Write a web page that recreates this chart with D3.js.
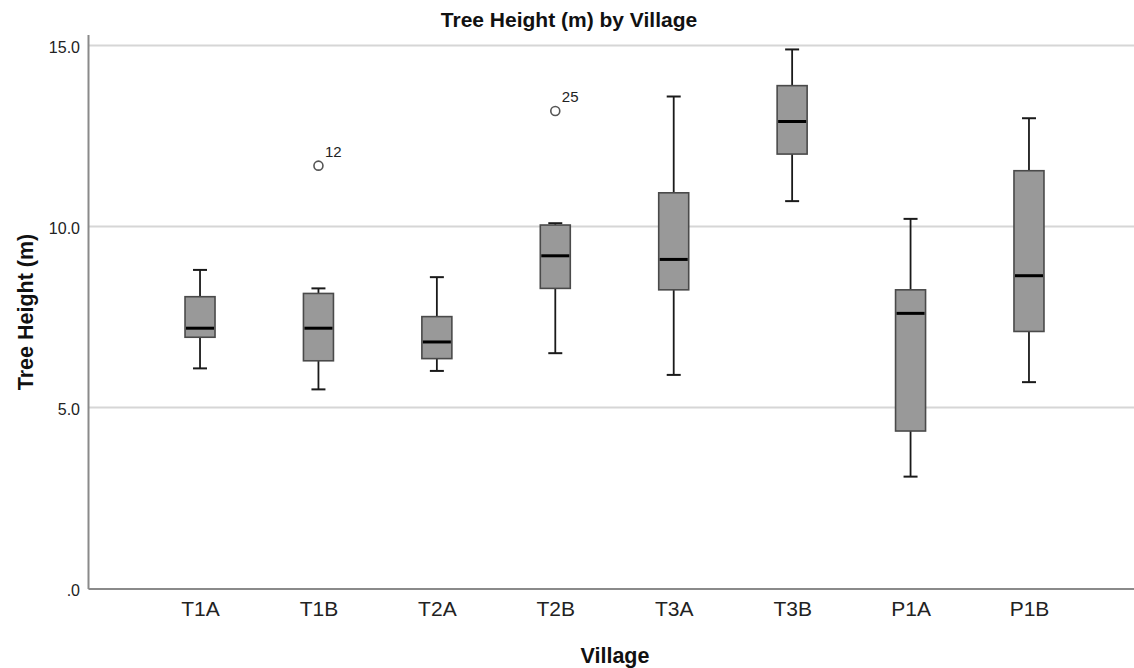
<!DOCTYPE html>
<html>
<head>
<meta charset="utf-8">
<script src="https://cdn.jsdelivr.net/npm/d3@7"></script>
<style>
  body { margin: 0; background: #fff; }
  svg { display: block; font-family: "Liberation Sans", Arial, sans-serif; }
</style>
</head>
<body>
<div id="chart"></div>
<script>
// values
const villages = ["T1A", "T1B", "T2A", "T2B", "T3A", "T3B", "P1A", "P1B"];
const whiskerLow  = [6.08, 5.50, 6.01, 6.50, 5.90, 10.70, 3.09, 5.70];
const q1          = [6.94, 6.29, 6.35, 8.29, 8.25, 12.00, 4.35, 7.10];
const medians     = [7.19, 7.19, 6.81, 9.19, 9.09, 12.90, 7.60, 8.64];
const q3          = [8.06, 8.15, 7.51, 10.04, 10.93, 13.89, 8.25, 11.54];
const whiskerHigh = [8.80, 8.29, 8.60, 10.09, 13.59, 14.89, 10.21, 12.99];
const outlierVillage = ["T1B", "T2B"];
const outlierValue   = [11.68, 13.19];
const outlierLabel   = ["12", "25"];
const yTicks = [0, 5, 10, 15];

const w = 1134, h = 668;

const boxes = villages.map((v, i) => ({
    village: v,
    lo: whiskerLow[i], q1: q1[i], med: medians[i], q3: q3[i], hi: whiskerHigh[i]
}));
const outliers = outlierVillage.map((v, i) => ({village: v, value: outlierValue[i], label: outlierLabel[i]}));

let svg = d3.select("#chart")
    .append("svg")
    .attr("width", w)
    .attr("height", h);

const x = d3.scalePoint()
    .domain(villages)
    .range([88, 1141])
    .padding(0.946);

const y = d3.scaleLinear()
    .domain([0, 15.3])
    .range([588.5, 34.6]);

// gridlines
svg.append("g")
    .selectAll("line")
    .data(yTicks.filter(d => d > 0))
    .join("line")
    .attr("x1", 88)
    .attr("x2", 1141)
    .attr("y1", d => y(d))
    .attr("y2", d => y(d))
    .attr("stroke", "#d6d6d6")
    .attr("stroke-width", 2);

// y axis
const fmt = d => d3.format(".1f")(d).replace(/^0\./, ".");
const yAxis = svg.append("g")
    .attr("transform", "translate(88,0)")
    .call(d3.axisLeft(y).tickValues(yTicks).tickSize(0).tickPadding(8).tickFormat(fmt));
yAxis.select(".domain").attr("stroke", "#8a8a8a").attr("stroke-width", 2);
yAxis.selectAll("text")
    .attr("font-family", "'Liberation Sans', Arial, sans-serif")
    .attr("font-size", 16)
    .attr("fill", "#222")
    .attr("dy", "0.45em");

// x axis
const xAxis = svg.append("g")
    .attr("transform", "translate(0,588.5)")
    .call(d3.axisBottom(x).tickSize(0).tickPadding(13));
xAxis.select(".domain").attr("stroke", "#8a8a8a").attr("stroke-width", 2);
xAxis.selectAll("text")
    .attr("font-family", "'Liberation Sans', Arial, sans-serif")
    .attr("font-size", 21)
    .attr("fill", "#222");

// boxes
const bw = 30, cw = 14;
const box = svg.append("g")
    .selectAll("g")
    .data(boxes)
    .join("g")
    .attr("transform", d => `translate(${x(d.village)},0)`);

// whiskers
box.append("line")
    .attr("y1", d => y(d.q3)).attr("y2", d => y(d.hi))
    .attr("stroke", "#1a1a1a").attr("stroke-width", 1.8);
box.append("line")
    .attr("y1", d => y(d.q1)).attr("y2", d => y(d.lo))
    .attr("stroke", "#1a1a1a").attr("stroke-width", 1.8);
box.append("line")
    .attr("x1", -cw / 2).attr("x2", cw / 2)
    .attr("y1", d => y(d.hi)).attr("y2", d => y(d.hi))
    .attr("stroke", "#1a1a1a").attr("stroke-width", 2);
box.append("line")
    .attr("x1", -cw / 2).attr("x2", cw / 2)
    .attr("y1", d => y(d.lo)).attr("y2", d => y(d.lo))
    .attr("stroke", "#1a1a1a").attr("stroke-width", 2);

box.append("rect")
    .attr("x", -bw / 2)
    .attr("width", bw)
    .attr("y", d => y(d.q3))
    .attr("height", d => y(d.q1) - y(d.q3))
    .attr("fill", "#999999")
    .attr("stroke", "#4a4a4a")
    .attr("stroke-width", 1.6);

box.append("line")
    .attr("x1", -bw / 2 + 1).attr("x2", bw / 2 - 1)
    .attr("y1", d => y(d.med)).attr("y2", d => y(d.med))
    .attr("stroke", "#000")
    .attr("stroke-width", 3);

// outliers
const out = svg.append("g")
    .selectAll("g")
    .data(outliers)
    .join("g")
    .attr("transform", d => `translate(${x(d.village)},${y(d.value)})`);
out.append("circle")
    .attr("r", 4.5)
    .attr("fill", "#fff")
    .attr("stroke", "#555")
    .attr("stroke-width", 1.6);
out.append("text")
    .attr("x", 6.5)
    .attr("y", -9)
    .attr("font-size", 15)
    .attr("fill", "#222")
    .text(d => d.label);

// titles
svg.append("text")
    .attr("x", 569)
    .attr("y", 27)
    .attr("text-anchor", "middle")
    .attr("font-size", 21)
    .attr("font-weight", "bold")
    .attr("fill", "#111")
    .text("Tree Height (m) by Village");

svg.append("text")
    .attr("transform", "translate(33,312) rotate(-90)")
    .attr("text-anchor", "middle")
    .attr("font-size", 21.5)
    .attr("font-weight", "bold")
    .attr("fill", "#111")
    .text("Tree Height (m)");

svg.append("text")
    .attr("x", 615)
    .attr("y", 663)
    .attr("text-anchor", "middle")
    .attr("font-size", 21.5)
    .attr("font-weight", "bold")
    .attr("fill", "#111")
    .text("Village");
</script>
</body>
</html>
